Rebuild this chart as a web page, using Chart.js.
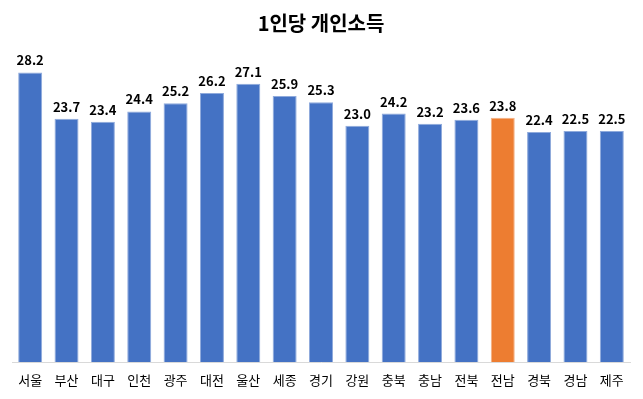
<!DOCTYPE html>
<html><head><meta charset="utf-8">
<script src="https://cdn.jsdelivr.net/npm/chart.js@4"></script>
<style>html,body{margin:0;padding:0;background:#fff}#wrap{width:643px;height:399px}</style>
</head><body><div id="wrap"><canvas id="c" width="643" height="399"></canvas></div>
<script>
const categories = ['서울','부산','대구','인천','광주','대전','울산','세종','경기','강원','충북','충남','전북','전남','경북','경남','제주'];
const values = [28.2,23.7,23.4,24.4,25.2,26.2,27.1,25.9,25.3,23.0,24.2,23.2,23.6,23.8,22.4,22.5,22.5];
const highlight = '전남';
const FONT = '"Noto Sans CJK KR", "Noto Sans", sans-serif';

const colors = categories.map(c => c === highlight ? '#ED7D31' : '#4472C4');
const borders = categories.map(c => c === highlight ? '#F4B183' : '#8FAADC');

const labelPlugin = {
  id: 'valLabels',
  afterDatasetsDraw(chart) {
    const ctx = chart.ctx;
    const meta = chart.getDatasetMeta(0);
    ctx.save();
    ctx.font = 'bold 13px ' + FONT;
    ctx.fillStyle = '#000';
    ctx.textAlign = 'center';
    ctx.textBaseline = 'alphabetic';
    meta.data.forEach((el, i) => {
      ctx.fillText(values[i].toFixed(1), el.x, el.y - 7);
    });
    ctx.restore();
  }
};

new Chart(document.getElementById('c'), {
  type: 'bar',
  data: {
    labels: categories,
    datasets: [{
      data: values,
      backgroundColor: colors,
      borderColor: borders,
      borderWidth: {top:1,left:1,right:1,bottom:0},
      categoryPercentage: 1,
      barPercentage: 0.66
    }]
  },
  options: {
    responsive: false,
    animation: false,
    layout: { padding: { left: 12, right: 13, top: 0, bottom: 0 } },
    plugins: {
      legend: { display: false },
      tooltip: { enabled: false },
      title: {
        display: true,
        text: '1인당 개인소득',
        color: '#000',
        font: { family: FONT, size: 20, weight: 'bold' },
        padding: { top: 11, bottom: 19 }
      }
    },
    scales: {
      y: { display: false, min: 0, max: 30 },
      x: {
        grid: { display: false, drawTicks: false },
        border: { display: true, color: '#D9D9D9', width: 1 },
        ticks: { color: '#000', font: { family: FONT, size: 13 }, padding: 10, maxRotation: 0, autoSkip: false },
        afterFit(scale) { scale.height = 37; }
      }
    }
  },
  plugins: [labelPlugin]
});
</script></body></html>
